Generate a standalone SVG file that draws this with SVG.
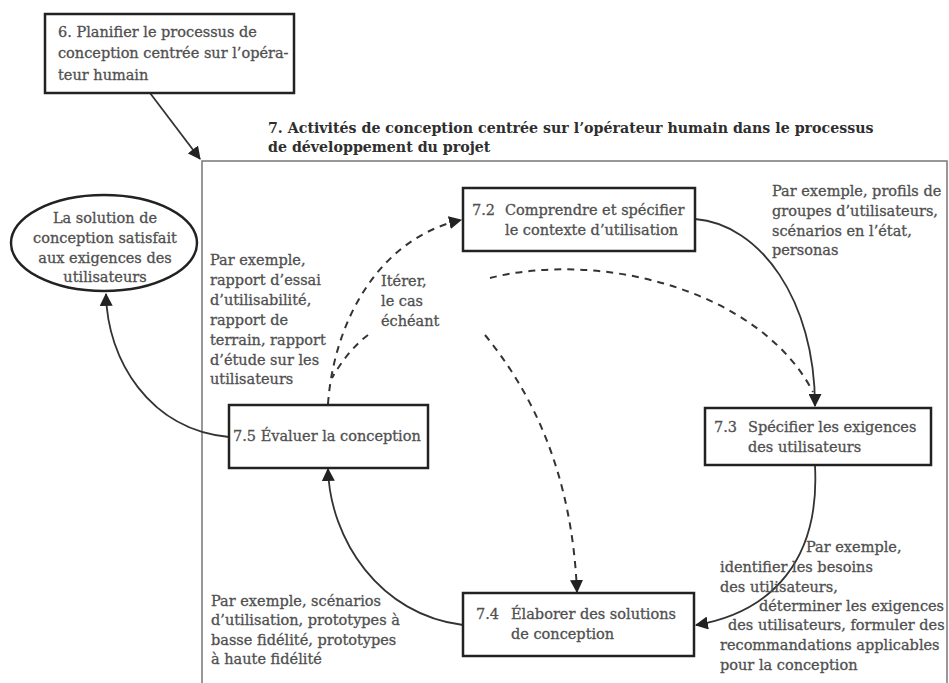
<svg xmlns="http://www.w3.org/2000/svg" width="949" height="683" viewBox="0 0 949 683">
  <defs>
    <style>
      .t { font-family: "DejaVu Serif", "Liberation Serif", serif; font-size: 14.5px; fill: #505050; stroke: #505050; stroke-width: 0.3; }
      .b { font-family: "DejaVu Serif", "Liberation Serif", serif; font-size: 14.2px; font-weight: bold; fill: #2e2e2e; }
      .box { fill: #fff; stroke: #222; stroke-width: 2.5; }
      .solid { fill: none; stroke: #333; stroke-width: 1.8; }
      .dash { fill: none; stroke: #333; stroke-width: 2; stroke-dasharray: 7 6; }
    </style>
    <marker id="arrowL" viewBox="0 0 12 12" refX="11" refY="6" markerWidth="13" markerHeight="13" markerUnits="userSpaceOnUse" orient="auto">
      <path d="M0,0 L12,6 L0,12 z" fill="#222"/>
    </marker>
  </defs>

  <rect width="949" height="683" fill="#fff"/>

  <!-- process container 7 -->
  <g id="container">
    <path d="M202,683 L202,161 L947,161 L947,683" fill="none" stroke="#777" stroke-width="1.5"/>
    <text class="b" x="268" y="133">7. Activités de conception centrée sur l’opérateur humain dans le processus</text>
    <text class="b" x="268" y="152">de développement du projet</text>
  </g>

  <!-- connectors -->
  <g id="connectors">
    <path class="solid" d="M150,93 L200,159" marker-end="url(#arrowL)"/>
    <path class="solid" d="M695,219 C760,224 815,300 815,406" marker-end="url(#arrowL)"/>
    <path class="dash" d="M490,278 C600,250 760,290 813,392"/>
    <path class="dash" d="M328,404 C334,320 380,238 461,220" marker-end="url(#arrowL)"/>
    <path class="dash" d="M368,335 Q348,350 332,378"/>
    <path class="dash" d="M485,335 C530,390 572,470 577,592" marker-end="url(#arrowL)"/>
    <path class="solid" d="M815,466 C820,560 772,612 696,625" marker-end="url(#arrowL)"/>
    <path class="solid" d="M463,625 C380,615 330,540 328,469" marker-end="url(#arrowL)"/>
    <path class="solid" d="M229,437 C150,430 107,360 106,294" marker-end="url(#arrowL)"/>
  </g>

  <!-- 6 -->
  <g id="n6">
    <rect class="box" x="45" y="14" width="249" height="79"/>
    <text class="t" x="58" y="37">6. Planifier le processus de</text>
    <text class="t" x="58" y="58">conception centrée sur l’opéra-</text>
    <text class="t" x="58" y="80">teur humain</text>
  </g>

  <!-- outcome -->
  <g id="outcome">
    <ellipse cx="104" cy="243" rx="93" ry="48" fill="#fff" stroke="#222" stroke-width="2.5"/>
    <text class="t" x="105" y="223" text-anchor="middle">La solution de</text>
    <text class="t" x="105" y="243" text-anchor="middle">conception satisfait</text>
    <text class="t" x="105" y="263" text-anchor="middle">aux exigences des</text>
    <text class="t" x="105" y="282" text-anchor="middle">utilisateurs</text>
  </g>

  <!-- 7.2 -->
  <g id="n72">
    <rect class="box" x="463" y="188" width="232" height="63"/>
    <text class="t" x="472" y="215">7.2</text>
    <text class="t" x="505" y="215">Comprendre et spécifier</text>
    <text class="t" x="505" y="235">le contexte d’utilisation</text>
  </g>

  <!-- 7.3 -->
  <g id="n73">
    <rect class="box" x="705" y="408" width="226" height="57"/>
    <text class="t" x="714" y="432">7.3</text>
    <text class="t" x="748" y="432">Spécifier les exigences</text>
    <text class="t" x="748" y="452">des utilisateurs</text>
  </g>

  <!-- 7.4 -->
  <g id="n74">
    <rect class="box" x="463" y="593" width="231" height="63"/>
    <text class="t" x="476" y="619">7.4</text>
    <text class="t" x="511" y="619">Élaborer des solutions</text>
    <text class="t" x="511" y="639">de conception</text>
  </g>

  <!-- 7.5 -->
  <g id="n75">
    <rect class="box" x="229" y="405" width="199" height="63"/>
    <text class="t" x="233" y="441">7.5 Évaluer la conception</text>
  </g>

  <!-- example annotations -->
  <g id="notes">
    <text class="t" x="210" y="265">Par exemple,</text>
    <text class="t" x="210" y="285">rapport d’essai</text>
    <text class="t" x="210" y="305">d’utilisabilité,</text>
    <text class="t" x="210" y="325">rapport de</text>
    <text class="t" x="210" y="345">terrain, rapport</text>
    <text class="t" x="210" y="365">d’étude sur les</text>
    <text class="t" x="210" y="384">utilisateurs</text>

    <text class="t" x="381" y="286">Itérer,</text>
    <text class="t" x="381" y="306">le cas</text>
    <text class="t" x="381" y="326">échéant</text>

    <text class="t" x="772" y="196">Par exemple, profils de</text>
    <text class="t" x="772" y="216">groupes d’utilisateurs,</text>
    <text class="t" x="772" y="236">scénarios en l’état,</text>
    <text class="t" x="772" y="255">personas</text>

    <text class="t" x="806" y="552">Par exemple,</text>
    <text class="t" x="720" y="572">identifier les besoins</text>
    <text class="t" x="720" y="592">des utilisateurs,</text>
    <text class="t" x="759" y="611">déterminer les exigences</text>
    <text class="t" x="728" y="630">des utilisateurs, formuler des</text>
    <text class="t" x="720" y="650">recommandations applicables</text>
    <text class="t" x="720" y="670">pour la conception</text>

    <text class="t" x="211" y="606">Par exemple, scénarios</text>
    <text class="t" x="211" y="625">d’utilisation, prototypes à</text>
    <text class="t" x="211" y="645">basse fidélité, prototypes</text>
    <text class="t" x="211" y="664">à haute fidélité</text>
  </g>
</svg>
